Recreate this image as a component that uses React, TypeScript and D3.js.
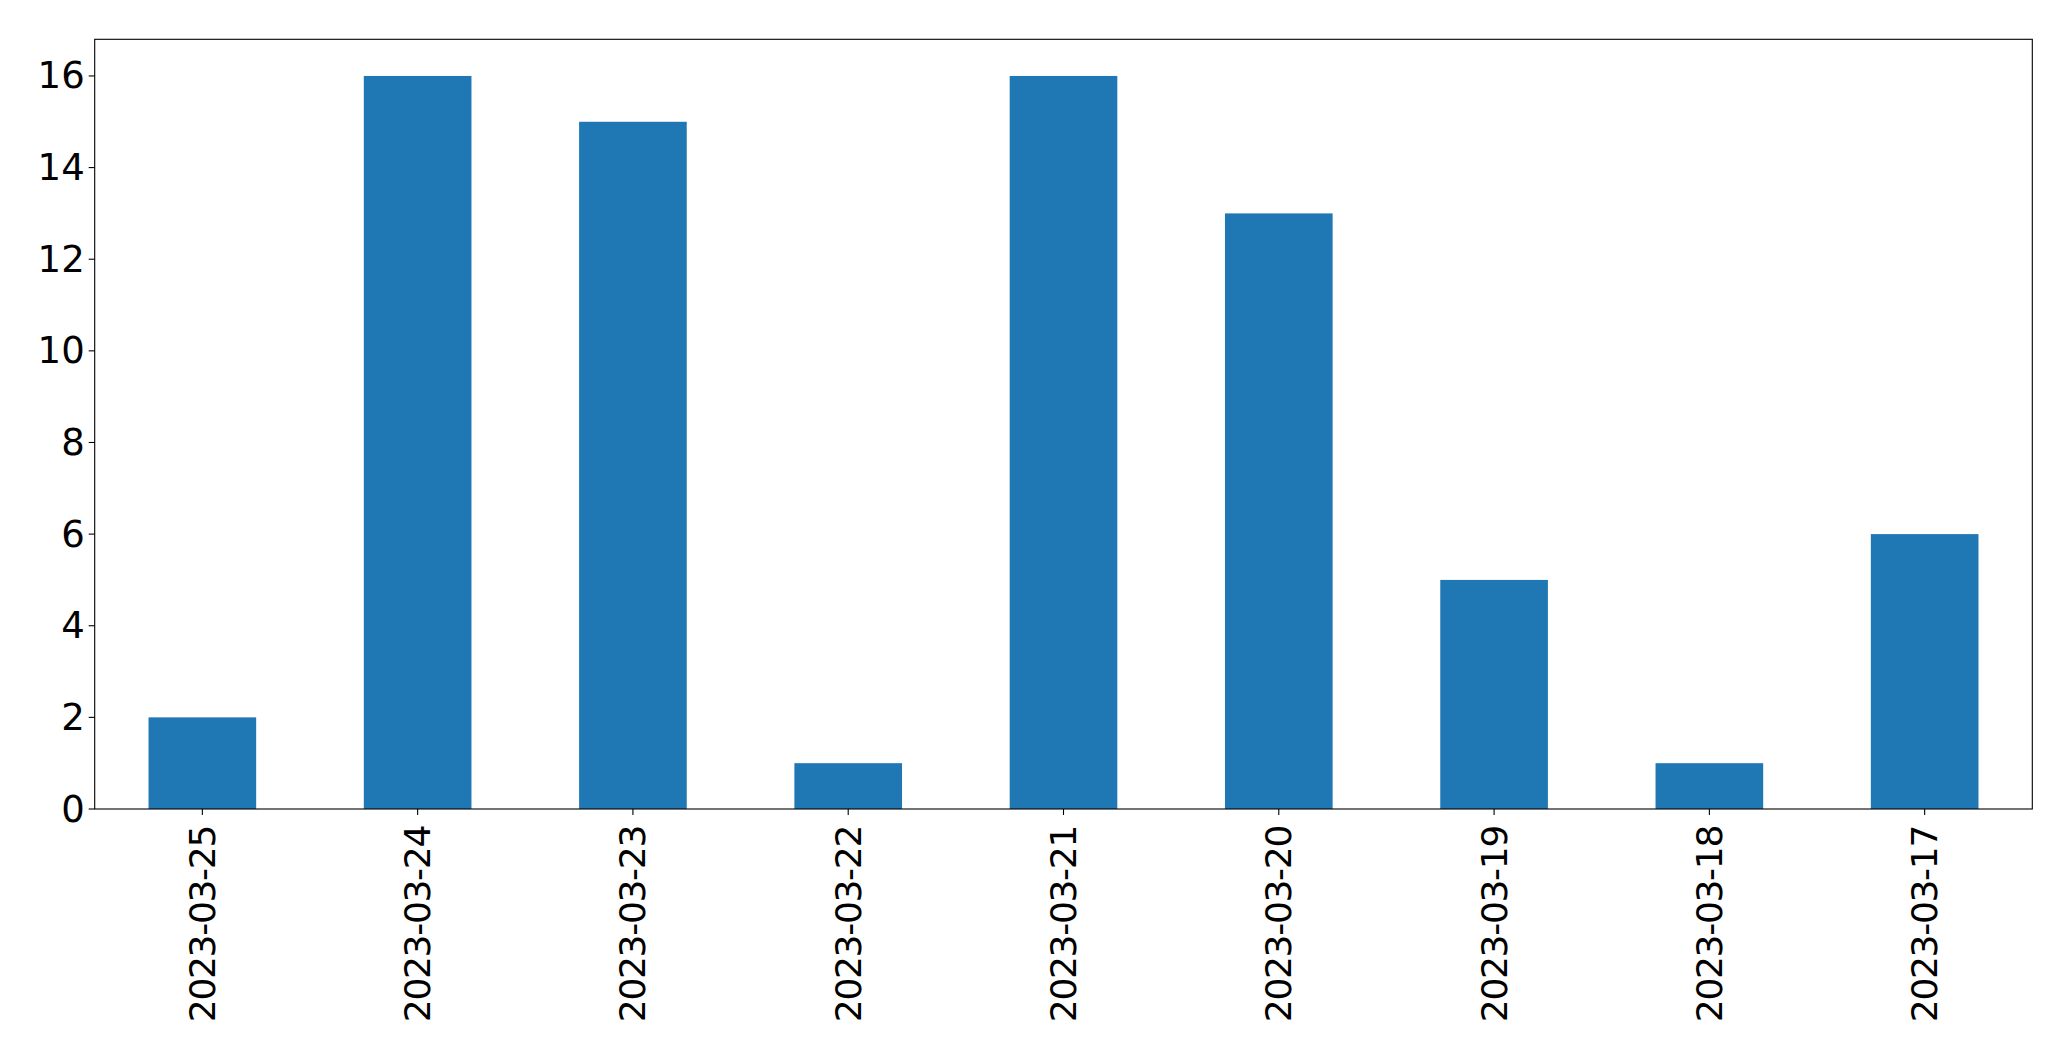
import React from "react";
import * as d3 from "d3";

const categories = ["2023-03-25","2023-03-24","2023-03-23","2023-03-22","2023-03-21","2023-03-20","2023-03-19","2023-03-18","2023-03-17"];
const values = [2, 16, 15, 1, 16, 13, 5, 1, 6];
const yTicks = [0, 2, 4, 6, 8, 10, 12, 14, 16];

const W = 2071, H = 1061;
const left = 94.7, right = 2032.3, top = 39.3, bottom = 809;
const FONT = "DejaVu Sans, sans-serif";

export default function App() {
  const x = d3.scaleLinear().domain([-0.5, categories.length - 0.5]).range([left, right]);
  const y = d3.scaleLinear().domain([0, 16 * 1.05]).range([bottom, top]);
  const bw = 0.5;
  return (
    <svg width={W} height={H} style={{ position: "absolute", left: 0, top: 0, background: "#fff" }}>
      <rect x={0} y={0} width={W} height={H} fill="#fff" />
      {values.map((v, i) => (
        <rect key={i} x={x(i - bw / 2)} y={y(v)} width={x(i + bw / 2) - x(i - bw / 2)} height={y(0) - y(v)} fill="#1f77b4" />
      ))}
      <rect x={left} y={top} width={right - left} height={bottom - top} fill="none" stroke="#000" strokeWidth={1.1} />
      {yTicks.map((t) => (
        <g key={t}>
          <line x1={left - 6} x2={left} y1={y(t)} y2={y(t)} stroke="#000" strokeWidth={1.1} />
          <text x={left - 10} y={y(t)} textAnchor="end" dominantBaseline="central" fontFamily={FONT} fontSize={37} fill="#000">{t}</text>
        </g>
      ))}
      {categories.map((c, i) => (
        <g key={c}>
          <line x1={x(i)} x2={x(i)} y1={bottom} y2={bottom + 6} stroke="#000" strokeWidth={1.1} />
          <text transform={`translate(${x(i)},${bottom + 17}) rotate(-90)`} textAnchor="end" dominantBaseline="central" fontFamily={FONT} fontSize={36} letterSpacing={-1.3} fill="#000">{c}</text>
        </g>
      ))}
    </svg>
  );
}
